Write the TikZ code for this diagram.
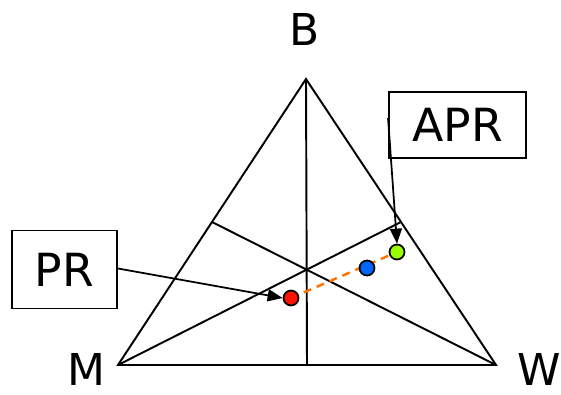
\documentclass[tikz,border=0pt]{standalone}
\usepackage{fontspec}
\setmainfont{DejaVu Sans}
\usetikzlibrary{arrows.meta, calc}

\begin{document}
\begin{tikzpicture}[
    x=0.02cm, y=-0.02cm,
    edge/.style={line width=1.1pt, line join=miter},
    corner/.style={inner sep=0pt, font=\fontsize{25}{30}\selectfont},
    tag/.style={rectangle, draw, line width=1.1pt, font=\fontsize{26}{30}\selectfont},
    dot/.style={circle, draw, line width=1pt, inner sep=0pt, minimum size=0.3cm},
    arrow/.style={-{Triangle[length=0.3cm, width=0.24cm]}, line width=1pt},
    link/.style={dashed, dash pattern=on 0.16cm off 0.12cm, line width=1.4pt, draw=orange!90!red}
]
\useasboundingbox (0,0) rectangle (561,395);

%% Triangle corners
\coordinate (M) at (118,365);
\coordinate (W) at (496,365);
\coordinate (B) at (306,79);

\draw[edge] (M) -- (W) -- (B) -- cycle;

%% Medians
\draw[edge] (B) -- ($(M)!0.5!(W)$);
\draw[edge] (M) -- ($(B)!0.5!(W)$);
\draw[edge] (W) -- ($(B)!0.5!(M)$);

%% Corner labels
\node[corner] (lb) at (305,29) {B};
\node[corner] (lm) at (86,369) {M};
\node[corner] (lw) at (539,369) {W};

%% Points
\draw[link] (291,298) -- (397,252);
\node[dot, fill=red!85!orange] (pr) at (291,298) {};
\node[dot, fill=blue!60!cyan] (mid) at (367,268) {};
\node[dot, fill=lime!80!green] (apr) at (397,252) {};

%% Boxes
\node[tag, minimum width=2.1cm, minimum height=1.56cm] (prbox) at (64.5,269.5) {PR};
\node[tag, minimum width=2.74cm, minimum height=1.32cm] (aprbox) at (457.5,125) {APR};

%% Arrows
\draw[arrow] ([yshift=0.02cm]prbox.east) -- (pr.west);
\draw[arrow] ([yshift=0.14cm]aprbox.west) -- (apr.north);

\end{tikzpicture}
\end{document}
